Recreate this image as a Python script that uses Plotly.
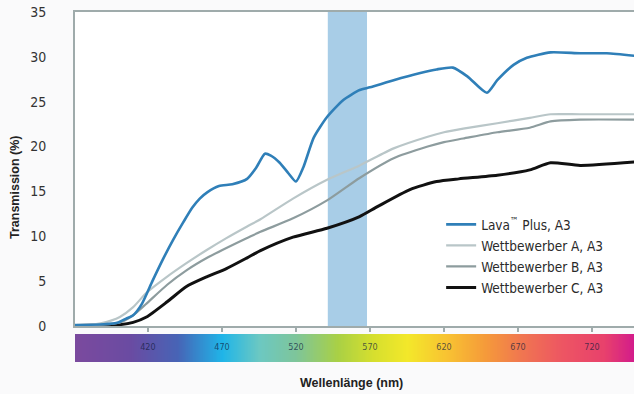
import numpy as np
import plotly.graph_objects as go

# ---------------- data ----------------
lava_nm = [370, 390, 400, 405, 410, 416, 423, 430, 437, 444, 450, 455, 460, 468, 477, 487, 493,
           499, 503, 509, 515, 520, 525, 532, 541, 552, 563, 570, 586, 604, 615, 626, 636,
           649, 656, 667, 676, 692, 712, 730, 750]
lava_val = [0.1, 0.2, 0.4, 0.8, 1.2, 2.5, 5.0, 7.4, 9.6, 11.6, 13.2, 14.2, 14.9, 15.6, 15.8, 16.4, 17.6,
            19.2, 19.0, 18.2, 17.0, 16.1, 17.7, 21.0, 23.3, 25.2, 26.3, 26.6, 27.4, 28.2, 28.6, 28.8, 27.8,
            26.0, 27.4, 29.1, 29.9, 30.5, 30.4, 30.4, 30.1]

a_nm = [370, 380, 388, 395, 401, 410, 419, 433, 446, 460, 473, 487, 496, 518, 541, 563, 586,
        609, 620, 633, 656, 678, 692, 712, 750]
a_val = [0.05, 0.1, 0.3, 0.6, 1.0, 2.1, 3.7, 5.5, 7.0, 8.5, 9.8, 11.1, 11.9, 14.2, 16.3, 17.9, 19.8,
         21.1, 21.6, 22.0, 22.6, 23.2, 23.6, 23.6, 23.6]

b_nm = [370, 390, 401, 410, 419, 433, 446, 460, 473, 487, 496, 518, 541, 563, 586, 609, 620,
        633, 656, 678, 692, 712, 750]
b_val = [0.05, 0.15, 0.4, 1.2, 2.5, 4.6, 6.2, 7.6, 8.7, 9.8, 10.5, 12.0, 14.0, 16.5, 18.7, 20.0, 20.5,
         20.9, 21.6, 22.1, 22.8, 23.0, 23.0]

c_nm = [370, 390, 401, 410, 419, 433, 446, 460, 473, 487, 496, 518, 541, 563, 575, 597, 615,
        630, 656, 678, 692, 712, 750]
c_val = [0.05, 0.1, 0.15, 0.4, 1.0, 2.7, 4.4, 5.5, 6.4, 7.6, 8.4, 9.9, 10.9, 12.2, 13.3, 15.2, 16.1,
         16.4, 16.8, 17.4, 18.2, 17.9, 18.3]

series_names = ["Lava<sup>™</sup> Plus, A3", "Wettbewerber A, A3",
                "Wettbewerber B, A3", "Wettbewerber C, A3"]

band_nm = [541.5, 568]
x_ticks = [420, 470, 520, 570, 620, 670, 720]
y_ticks = [0, 5, 10, 15, 20, 25, 30, 35]

spectrum_nm = [370, 408, 440, 470, 495, 520, 548, 572, 595, 622, 648, 672, 700, 728, 749]
spectrum_col = ["#7b4a9e", "#6a4ba2", "#4764b6", "#1fb5e8", "#6cc8c2", "#7ec59a", "#a9d045",
                "#d6df2e", "#f3e82a", "#f8c232", "#f59a3a", "#f07650", "#ed5563", "#e8416c", "#d21a8c"]

# ---------------- figure ----------------
X_RANGE = [370.7, 748.4]
FONT = "DejaVu Sans Condensed, Liberation Sans Narrow, Arial Narrow, sans-serif"
AX = "#9fabab"

fig = go.Figure()

styles = [
    dict(color="#2f7fb8", width=2.6),
    dict(color="#b9c6c8", width=2.2),
    dict(color="#8d9c9e", width=2.2),
    dict(color="#111111", width=3.0),
]
xs = [lava_nm, a_nm, b_nm, c_nm]
ys = [lava_val, a_val, b_val, c_val]
for i in [3, 2, 1, 0]:
    fig.add_trace(go.Scatter(
        x=xs[i], y=ys[i], mode="lines", name=series_names[i],
        line=dict(color=styles[i]["color"], width=styles[i]["width"], shape="spline", smoothing=0.6),
        legendgroup=str(i), legendrank=i, xaxis="x", yaxis="y"))

# spectrum bar
lo, hi = spectrum_nm[0], spectrum_nm[-1]
cscale = [[(v - lo) / (hi - lo), c] for v, c in zip(spectrum_nm, spectrum_col)]
grid = np.linspace(lo, hi, 400)
fig.add_trace(go.Heatmap(x=grid, y=[0, 1], z=[grid, grid], colorscale=cscale, zmin=lo, zmax=hi,
                         showscale=False, hoverinfo="skip", xaxis="x2", yaxis="y2", zsmooth="best"))
fig.add_trace(go.Scatter(x=x_ticks, y=[0.5] * len(x_ticks), mode="text",
                         text=[str(t) for t in x_ticks], showlegend=False,
                         textfont=dict(size=9, color="rgba(15,25,60,0.7)", family=FONT),
                         xaxis="x2", yaxis="y2", hoverinfo="skip"))

fig.add_shape(type="rect", xref="x", yref="y", x0=band_nm[0], x1=band_nm[1], y0=0, y1=35,
              fillcolor="#a8cde7", line=dict(width=0), layer="below")

fig.update_layout(
    width=634, height=394, autosize=False,
    margin=dict(l=75, r=0, t=12, b=32, autoexpand=False),
    paper_bgcolor="#fafafb", plot_bgcolor="#ffffff",
    font=dict(family=FONT, color="#333333"),
    showlegend=True,
    legend=dict(x=0.655, y=0.437, xanchor="left", yanchor="top", bgcolor="rgba(0,0,0,0)",
                font=dict(size=13.5, color="#2a2a2a", family=FONT), tracegroupgap=0.5,
                traceorder="grouped", itemwidth=30),
    xaxis=dict(range=X_RANGE, domain=[0, 1], anchor="y", showgrid=False, zeroline=False,
               tickvals=x_ticks, ticks="outside", ticklen=4, tickcolor=AX, tickwidth=1.5,
               showticklabels=False, showline=True, linecolor=AX, linewidth=2, mirror=True,
               automargin=False),
    yaxis=dict(range=[0, 35], domain=[36 / 350, 1], anchor="x", showgrid=False, zeroline=False,
               tickvals=y_ticks, ticks="", showline=True, linecolor=AX, linewidth=2, mirror=True,
               tickfont=dict(size=14, color="#333333", family=FONT), ticklabelstandoff=24,
               automargin=False),
    xaxis2=dict(range=X_RANGE, domain=[0, 1], anchor="y2", visible=False, automargin=False),
    yaxis2=dict(range=[0, 1], domain=[0, 28 / 350], anchor="x2", visible=False, automargin=False),
    annotations=[
        dict(text="<b>Wellenlänge (nm)</b>", xref="paper", yref="paper", x=0.495, y=-21 / 350,
             xanchor="center", yanchor="middle", showarrow=False,
             font=dict(size=12.5, color="#222222", family="Liberation Sans, Arial, sans-serif")),
        dict(text="<b>Transmission (%)</b>", xref="paper", yref="paper", x=-60 / 559, y=0.5,
             xanchor="center", yanchor="middle", showarrow=False, textangle=-90,
             font=dict(size=12.5, color="#222222", family="Liberation Sans, Arial, sans-serif")),
    ],
)

post = ("document.documentElement.style.margin='0';document.body.style.margin='0';"
        "document.body.style.overflow='hidden';"
        "var gd=document.getElementById('{plot_id}');Plotly.relayout(gd,{width:634,height:394});")
fig.write_html("out.html", config={"responsive": False, "displayModeBar": False},
               post_script=post)
